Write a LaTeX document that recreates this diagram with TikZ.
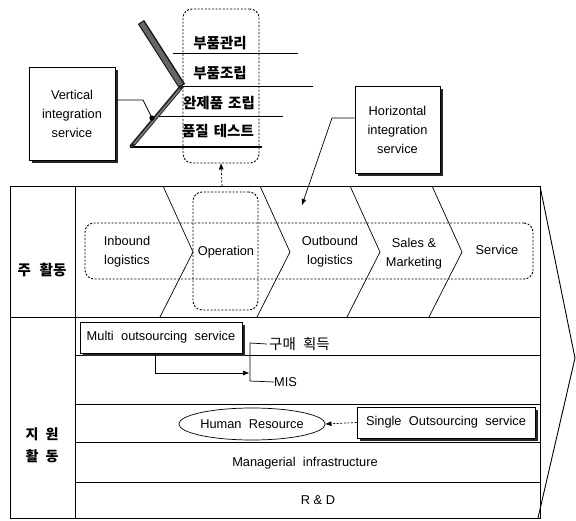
\documentclass[tikz,border=0pt]{standalone}
\usepackage{fontspec}
\setmainfont{Liberation Sans}
\newfontfamily\kr{Noto Sans CJK KR}
\usetikzlibrary{arrows.meta,shapes.geometric,shadows,calc}

\begin{document}
\begin{tikzpicture}[x=1pt,y=-1pt,
  txt/.style={font=\fontsize{12.8}{19}\selectfont, align=center, inner sep=0pt},
  ko/.style={font=\kr\bfseries\fontsize{14.5}{20}\selectfont, inner sep=0pt},
  kolight/.style={font=\kr\fontsize{14.5}{20}\selectfont, inner sep=0pt},
  frame/.style={line width=0.9pt},
  thin/.style={line width=0.7pt},
  dotted box/.style={draw, dash pattern=on 2pt off 1.6pt, line width=0.9pt,
    rounded corners=9pt, inner sep=0pt},
  sbox/.style={draw, line width=0.8pt, fill=white, txt,
    drop shadow={shadow xshift=2.5pt, shadow yshift=-2.5pt, fill=black!85, opacity=1}},
  tip/.style={-{Triangle[length=6pt,width=4.5pt]}}
]
\useasboundingbox (0,0) rectangle (576,520);

% ---- value chain frame ----
\draw[frame] (10,186) rectangle (540,518);
\draw[frame] (75,186) -- (75,518);
\draw[frame] (10,317) -- (540,317);
\foreach \y in {355,404,442,482} \draw[thin] (75,\y) -- (540,\y);
\draw[frame] (540,186) -- (575,358) -- (538,518);

% chevron boundaries of the primary activities
\foreach \t/\m in {163/193, 260/290, 350/380, 432/462}
  \draw[thin] (\t,186) -- (\m,252) -- (\t-3,317);

% dashed groupings
\node[dotted box, minimum width=448pt, minimum height=56pt] (hbox) at (309,251) {};
\node[dotted box, minimum width=65pt, minimum height=118pt] (opbox) at (225.5,251) {};

% primary activity labels
\node[txt] (inb) at (127,252) {Inbound\\logistics};
\node[txt] (op)  at (226,252) {Operation};
\node[txt] (outb) at (330,252) {Outbound\\logistics};
\node[txt] (sm)  at (414,254) {Sales \&\\Marketing};
\node[txt] (sv)  at (497,250) {Service};

\node[ko] (main) at (42,270) {주\hspace{0.6em}활동};
\node[ko, align=center, font=\kr\bfseries\fontsize{14}{22}\selectfont] (supp) at (42,445) {지\hspace{0.5em}원\\활\hspace{0.5em}동};

% support activity labels
\node[kolight, anchor=west] (buy) at (269,344) {구매\hspace{0.5em}획득};
\node[txt, anchor=west] (mis) at (274,382) {MIS};
\node[draw, thin, ellipse, minimum width=130pt, minimum height=32pt, txt] (hr) at (252,424) {Human\hspace{0.3em} Resource};
\node[txt] (mi) at (305,463) {Managerial\hspace{0.3em} infrastructure};
\node[txt] (rd) at (318,500) {R \& D};

% ---- production steps above Operation ----
\node[dotted box, minimum width=76pt, minimum height=154pt] (topbox) at (221,86) {};
\draw[thin] (173,53) -- (298,53);
\draw[thin] (182,86) -- (313,86);
\draw[thin] (153,116) -- (283,116);
\draw[line width=2.6pt] (130,147) -- (262,147);
\draw[line width=7.5pt, black!90] (141,22) -- (182,86);
\draw[line width=4.8pt, black!60] (141.5,23) -- (181,85);
\draw[line width=4.2pt, black!85] (182,86) -- (131,147);
\draw[line width=1.4pt, black!50] (180,89) -- (134,144);

\node[ko] (k1) at (220,43) {부품관리};
\node[ko] (k2) at (220,73) {부품조립};
\node[ko] (k3) at (219,103) {완제품\hspace{0.35em}조립};
\node[ko] (k4) at (218,131) {품질\hspace{0.35em}테스트};

% ---- service boxes ----
\node[sbox, minimum width=86pt, minimum height=93pt] (vis) at (72,113.5) {Vertical\\integration\\service};
\node[sbox, minimum width=85pt, minimum height=87pt] (his) at (397.5,129.5) {Horizontal\\integration\\service};
\node[sbox, minimum width=162pt, minimum height=31pt] (mos) at (161,337.5) {Multi\hspace{0.3em} outsourcing\hspace{0.3em} service};
\node[sbox, minimum width=178pt, minimum height=31pt] (sos) at (446,422.5) {Single\hspace{0.3em} Outsourcing\hspace{0.3em} service};

% ---- connectors ----
\coordinate (vkink) at (143,100);
\coordinate (vdot) at (152,118);
\draw[thin] (vis.east |- vkink) -- (vkink) -- (vdot);
\fill (vdot) circle (2.6pt);

\coordinate (hkink) at (332,118);
\coordinate (hend) at (302,205);
\draw[thin, tip] (his.west |- hkink) -- (hkink) -- (hend);

\coordinate (opup) at (222,186);
\draw[thin, dash pattern=on 2pt off 1.6pt, tip] (opup) -- (topbox.south);

\coordinate (mdown) at (155,373);
\coordinate (mend) at (249,373);
\draw[thin, tip] (mos.south -| mdown) -- (mdown) -- (mend);
\draw[thin] (buy.west) ++(-2,0) -- (250,343) -- (250,381) -- (mis.west);

\draw[thin, dash pattern=on 2pt off 1.6pt, tip] (sos.west) -- (hr.east);
\end{tikzpicture}
\end{document}
